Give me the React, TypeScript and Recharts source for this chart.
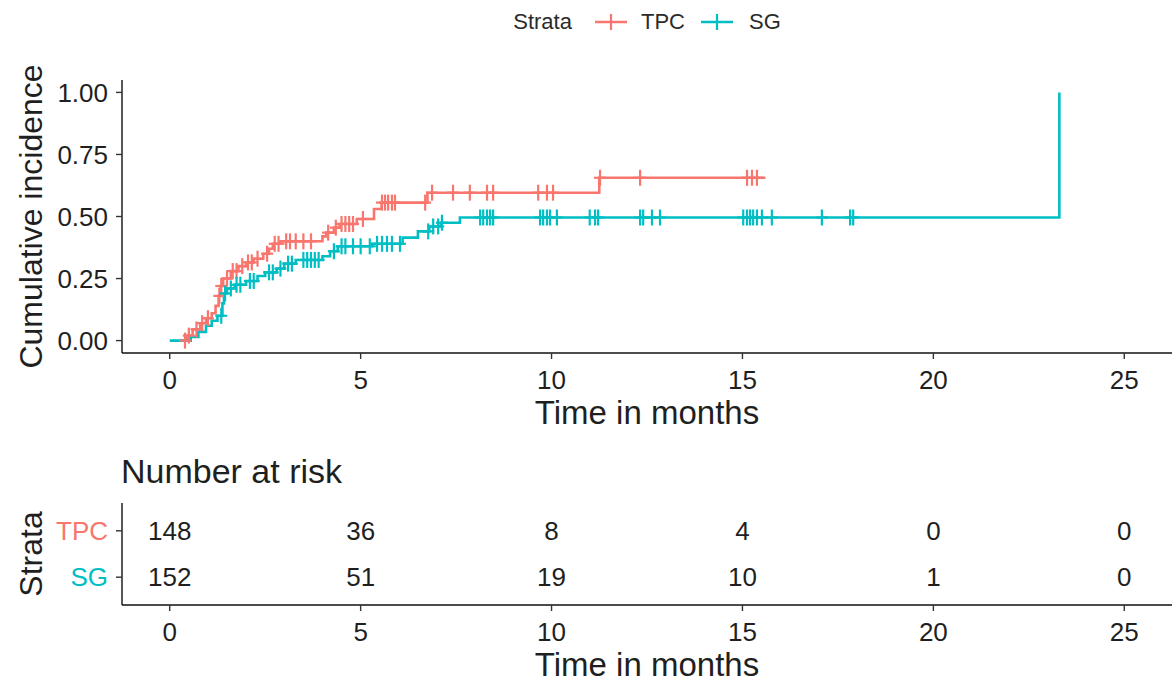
import React from "react";
import { ComposedChart, Line, Scatter, XAxis, YAxis, Label } from "recharts";

const TPC_COLOR = "#F8766D";
const SG_COLOR = "#00BFC4";
const TEXT = "#1f1f1f";
const FONT = "'Liberation Sans', Arial, Helvetica, sans-serif";

// cumulative incidence steps (months, value)
const tpcTimes = [0.27, 0.45, 0.6, 0.8, 0.95, 1.1, 1.2, 1.28, 1.33, 1.4, 1.6, 1.8, 2.0, 2.2, 2.45, 2.6, 2.7, 2.9, 4.0, 4.1, 4.3, 4.45, 4.9, 5.35, 5.55, 6.75, 11.25, 15.6];
const tpcInc = [0, 0.02, 0.045, 0.07, 0.09, 0.11, 0.14, 0.18, 0.22, 0.25, 0.28, 0.3, 0.315, 0.33, 0.35, 0.37, 0.39, 0.4, 0.42, 0.435, 0.455, 0.47, 0.49, 0.53, 0.556, 0.596, 0.656, 0.656];

const sgTimes = [0, 0.55, 0.75, 0.95, 1.1, 1.25, 1.38, 1.42, 1.5, 1.7, 2.0, 2.3, 2.5, 2.8, 3.0, 3.3, 4.0, 4.2, 4.4, 5.3, 6.1, 6.5, 6.8, 7.1, 7.6, 23.3];
const sgInc = [0, 0.015, 0.035, 0.06, 0.08, 0.1, 0.15, 0.19, 0.21, 0.225, 0.24, 0.26, 0.275, 0.29, 0.31, 0.325, 0.34, 0.36, 0.38, 0.39, 0.415, 0.44, 0.46, 0.475, 0.496, 1.0];

// censoring times (months)
const tpcCensor = [0.4, 0.5, 0.7, 0.85, 1.0, 1.3, 1.35, 1.5, 1.65, 1.75, 1.9, 2.05, 2.15, 2.3, 2.55, 2.75, 2.85, 3.05, 3.15, 3.3, 3.5, 3.7, 4.15, 4.35, 4.5, 4.6, 4.7, 4.8, 5.06, 5.56, 5.64, 5.72, 5.82, 5.9, 6.69, 6.87, 7.42, 7.86, 8.31, 8.47, 9.65, 9.88, 10.04, 11.27, 12.32, 15.12, 15.25, 15.38];
const sgCensor = [1.35, 1.45, 1.6, 1.75, 1.85, 2.1, 2.2, 2.6, 2.7, 2.9, 3.1, 3.2, 3.5, 3.6, 3.7, 3.8, 3.9, 4.3, 4.5, 4.6, 4.8, 5.0, 5.24, 5.43, 5.56, 5.69, 5.82, 6.03, 6.77, 6.9, 7.03, 7.13, 8.13, 8.21, 8.31, 8.39, 8.47, 9.7, 9.78, 9.88, 9.96, 10.14, 11.0, 11.14, 11.22, 12.32, 12.4, 12.63, 12.84, 15.02, 15.12, 15.2, 15.28, 15.38, 15.51, 15.77, 17.08, 17.82, 17.9];

// risk table
const timeTicks = [0, 5, 10, 15, 20, 25];
const incTicks = [0, 0.25, 0.5, 0.75, 1];
const tpcAtRisk = [148, 36, 8, 4, 0, 0];
const sgAtRisk = [152, 51, 19, 10, 1, 0];

const toCurve = (times: number[], inc: number[]) => times.map((t, i) => ({ t, ci: inc[i] }));
const stepAt = (times: number[], inc: number[], t: number) => {
  let v = 0;
  times.forEach((tt, i) => {
    if (tt <= t) v = inc[i];
  });
  return v;
};
const toMarks = (cens: number[], times: number[], inc: number[]) =>
  cens.map((t) => ({ t, ci: stepAt(times, inc, t) }));

const tpcCurve = toCurve(tpcTimes, tpcInc);
const sgCurve = toCurve(sgTimes, sgInc);
const tpcMarks = toMarks(tpcCensor, tpcTimes, tpcInc);
const sgMarks = toMarks(sgCensor, sgTimes, sgInc);

const riskRows = [
  ...timeTicks.map((t, i) => ({ t, row: 2, n: tpcAtRisk[i] })),
  ...timeTicks.map((t, i) => ({ t, row: 1, n: sgAtRisk[i] })),
];

const X_DOMAIN: [number, number] = [-1.25, 26.25];

const Plus = ({ cx, cy, color }: any) => (
  <g stroke={color} strokeWidth={2.2}>
    <line x1={cx - 6} x2={cx + 6} y1={cy} y2={cy} />
    <line x1={cx} x2={cx} y1={cy - 8} y2={cy + 8} />
  </g>
);

const XTitle = ({ viewBox }: any) => (
  <text x={viewBox.x + viewBox.width / 2} y={viewBox.y + 71} textAnchor="middle" fill={TEXT} fontSize={33} fontFamily={FONT}>
    Time in months
  </text>
);

const YTitle = ({ viewBox, text }: any) => {
  const cy = viewBox.y + viewBox.height / 2;
  return (
    <text x={31} y={cy} transform={`rotate(-90, 31, ${cy})`} textAnchor="middle" dominantBaseline="central" fill={TEXT} fontSize={32} fontFamily={FONT}>
      {text}
    </text>
  );
};

const StrataTick = ({ x, y, payload }: any) => (
  <text x={x} y={y} textAnchor="end" dominantBaseline="central" fontSize={26} fontFamily={FONT} fill={payload.value === 2 ? TPC_COLOR : SG_COLOR}>
    {payload.value === 2 ? "TPC" : "SG"}
  </text>
);

const RiskNumber = ({ cx, cy, payload }: any) => (
  <text x={cx} y={cy} textAnchor="middle" dominantBaseline="central" fontSize={26} fontFamily={FONT} fill={TEXT}>
    {payload.n}
  </text>
);

const tickStyle = { fontSize: 26, fontFamily: FONT, fill: TEXT };
const axisLine = { stroke: "#111", strokeWidth: 1.4 };
const tickLine = { stroke: "#333", strokeWidth: 1.4 };

const LegendKey = ({ color }: { color: string }) => (
  <svg width={34} height={20} style={{ display: "block" }}>
    <line x1={1} x2={33} y1={10} y2={10} stroke={color} strokeWidth={2.5} />
    <line x1={17} x2={17} y1={2} y2={18} stroke={color} strokeWidth={2.2} />
  </svg>
);

export default function App() {
  return (
    <div style={{ position: "relative", width: 1172, height: 682, background: "#fff", fontFamily: FONT, overflow: "hidden" }}>
      <style>{`body{margin:0}`}</style>

      {/* legend, centred on the plot panel */}
      <div style={{ position: "absolute", top: 10, left: 122, width: 1050, display: "flex", justifyContent: "center", alignItems: "center", fontSize: 22, color: "#2b2b2b", lineHeight: "24px" }}>
        <span style={{ marginRight: 22 }}>Strata</span>
        <LegendKey color={TPC_COLOR} />
        <span style={{ marginLeft: 13, marginRight: 15 }}>TPC</span>
        <LegendKey color={SG_COLOR} />
        <span style={{ marginLeft: 15 }}>SG</span>
      </div>

      {/* cumulative incidence plot */}
      <div style={{ position: "absolute", top: 0, left: 0 }}>
        <ComposedChart width={1172} height={440} margin={{ top: 80, right: 0, bottom: 0, left: 0 }}>
          <XAxis dataKey="t" type="number" domain={X_DOMAIN} ticks={timeTicks} allowDataOverflow height={87} tickSize={6} tickMargin={12} tick={tickStyle} axisLine={axisLine} tickLine={tickLine}>
            <Label content={<XTitle />} />
          </XAxis>
          <YAxis dataKey="ci" type="number" domain={[-0.05, 1.05]} ticks={incTicks} allowDataOverflow width={122} tickSize={6} tickMargin={8} tickFormatter={(v: number) => v.toFixed(2)} tick={tickStyle} axisLine={axisLine} tickLine={tickLine}>
            <Label content={<YTitle text="Cumulative incidence" />} />
          </YAxis>
          <Line data={tpcCurve} dataKey="ci" type="stepAfter" stroke={TPC_COLOR} strokeWidth={2.6} dot={false} activeDot={false} isAnimationActive={false} />
          <Line data={sgCurve} dataKey="ci" type="stepAfter" stroke={SG_COLOR} strokeWidth={2.6} dot={false} activeDot={false} isAnimationActive={false} />
          <Scatter data={tpcMarks} shape={(p: any) => <Plus {...p} color={TPC_COLOR} />} isAnimationActive={false} />
          <Scatter data={sgMarks} shape={(p: any) => <Plus {...p} color={SG_COLOR} />} isAnimationActive={false} />
        </ComposedChart>
      </div>

      <div style={{ position: "absolute", top: 454, left: 121, fontSize: 34, lineHeight: "34px", color: TEXT, whiteSpace: "nowrap" }}>
        Number at risk
      </div>

      {/* risk table */}
      <div style={{ position: "absolute", top: 440, left: 0 }}>
        <ComposedChart width={1172} height={242} margin={{ top: 63, right: 0, bottom: 0, left: 0 }}>
          <XAxis dataKey="t" type="number" domain={X_DOMAIN} ticks={timeTicks} allowDataOverflow height={77} tickSize={6} tickMargin={12} tick={tickStyle} axisLine={axisLine} tickLine={tickLine}>
            <Label content={<XTitle />} />
          </XAxis>
          <YAxis dataKey="row" type="number" domain={[0.4, 2.6]} ticks={[1, 2]} allowDataOverflow width={122} tickSize={6} tickMargin={8} tick={<StrataTick />} axisLine={axisLine} tickLine={tickLine}>
            <Label content={<YTitle text="Strata" />} />
          </YAxis>
          <Scatter data={riskRows} shape={(p: any) => <RiskNumber {...p} />} isAnimationActive={false} />
        </ComposedChart>
      </div>
    </div>
  );
}
